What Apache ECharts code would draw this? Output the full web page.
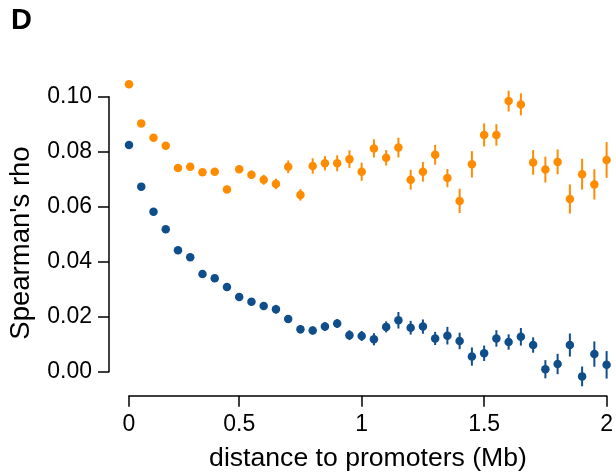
<!DOCTYPE html>
<html>
<head>
<meta charset="utf-8">
<script src="https://cdn.jsdelivr.net/npm/echarts@6/dist/echarts.min.js"></script>
<style>
html,body{margin:0;padding:0;background:#fff;}
#chart{width:616px;height:475px;}
</style>
</head>
<body>
<div id="chart"></div>
<script>
// bin number along distance axis (50 kb bins)
const binIndex = [1,2,3,4,5,6,7,8,9,10,11,12,13,14,15,16,17,18,19,20,21,22,23,24,25,26,27,28,29,30,31,32,33,34,35,36,37,38,39,40];
const xTickPositions = [1, 10, 20, 30, 40];
const xTickLabels = ['0', '0.5', '1', '1.5', '2'];

// orange series: value and error half-width
const orangeRho = [0.1045,0.0903,0.0851,0.0822,0.0741,0.0745,0.0725,0.0727,0.0663,0.0736,
                   0.0716,0.0698,0.0683,0.0745,0.0643,0.0748,0.0758,0.0758,0.0773,0.0727,
                   0.0812,0.0778,0.0815,0.0698,0.0727,0.0789,0.0704,0.0621,0.0754,0.0861,
                   0.0861,0.0984,0.0972,0.0761,0.0735,0.0763,0.0628,0.0718,0.0681,0.0770];
const orangeErr = [0.0006,0.0008,0.0009,0.0010,0.0010,0.0011,0.0012,0.0012,0.0013,0.0013,
                   0.0015,0.0018,0.0019,0.0023,0.0021,0.0028,0.0026,0.0029,0.0032,0.0033,
                   0.0033,0.0028,0.0036,0.0036,0.0036,0.0036,0.0033,0.0044,0.0048,0.0042,
                   0.0039,0.0038,0.0040,0.0045,0.0047,0.0045,0.0053,0.0056,0.0055,0.0065];

// blue series: value and error half-width
const blueRho = [0.0824,0.0673,0.0582,0.0518,0.0442,0.0416,0.0355,0.0340,0.0308,0.0272,
                 0.0254,0.0239,0.0227,0.0192,0.0154,0.0150,0.0164,0.0175,0.0133,0.0130,
                 0.0118,0.0163,0.0187,0.0160,0.0164,0.0121,0.0131,0.0112,0.0055,0.0067,
                 0.0121,0.0108,0.0127,0.0097,0.0009,0.0028,0.0097,-0.0017,0.0064,0.0025];
const blueErr = [0.0006,0.0007,0.0008,0.0008,0.0009,0.0009,0.0010,0.0010,0.0011,0.0011,
                 0.0012,0.0012,0.0016,0.0014,0.0015,0.0014,0.0016,0.0016,0.0018,0.0018,
                 0.0022,0.0020,0.0030,0.0025,0.0026,0.0024,0.0032,0.0030,0.0033,0.0028,
                 0.0030,0.0028,0.0032,0.0028,0.0033,0.0037,0.0042,0.0036,0.0046,0.0050];

const ORANGE = '#FF8C00';
const BLUE = '#104E8B';

function errData(vals, errs) {
  return binIndex.map((b, i) => [b, vals[i] - errs[i], vals[i] + errs[i]]);
}
function pointData(vals) {
  return binIndex.map((b, i) => [b, vals[i]]);
}
function errSeries(vals, errs, color) {
  return {
    type: 'custom',
    clip: false,
    data: errData(vals, errs),
    encode: { x: 0, y: [1, 2] },
    renderItem: function (params, api) {
      const x = api.value(0);
      const p1 = api.coord([x, api.value(1)]);
      const p2 = api.coord([x, api.value(2)]);
      return {
        type: 'line',
        shape: { x1: p1[0], y1: p1[1], x2: p2[0], y2: p2[1] },
        style: { stroke: color, lineWidth: 2 }
      };
    },
    z: 2
  };
}
function dotSeries(vals, color) {
  return {
    type: 'scatter',
    clip: false,
    data: pointData(vals),
    symbol: 'circle',
    symbolSize: 8.5,
    itemStyle: { color: color, opacity: 1 },
    z: 3
  };
}

const chart = echarts.init(document.getElementById('chart'), null, { renderer: 'canvas' });
const FONT = 'Liberation Sans, Arial, sans-serif';
chart.setOption({
  animation: false,
  backgroundColor: '#ffffff',
  grid: { left: 129, right: 7, top: 96.7, bottom: 103.3, containLabel: false },
  xAxis: {
    type: 'value',
    min: 1,
    max: 40,
    offset: 24,
    splitLine: { show: false },
    axisLine: { show: true, onZero: false, lineStyle: { color: '#000', width: 1.5 } },
    axisTick: { show: true, length: 11, customValues: xTickPositions, lineStyle: { color: '#000', width: 1.5 } },
    axisLabel: {
      customValues: xTickPositions,
      margin: 17,
      color: '#000',
      fontSize: 23,
      fontFamily: FONT,
      formatter: function (v) { const k = xTickPositions.indexOf(v); return k >= 0 ? xTickLabels[k] : ''; }
    }
  },
  yAxis: {
    type: 'value',
    min: 0,
    max: 0.1,
    interval: 0.02,
    offset: 20,
    splitLine: { show: false },
    axisLine: { show: true, onZero: false, lineStyle: { color: '#000', width: 1.5 } },
    axisTick: { show: true, length: 11, lineStyle: { color: '#000', width: 1.5 } },
    axisLabel: {
      margin: 17,
      color: '#000',
      fontSize: 23,
      fontFamily: FONT,
      formatter: function (v) { return v.toFixed(2); }
    }
  },
  graphic: [
    { type: 'text', left: 11, top: 6, style: { text: 'D', fontSize: 29, fontWeight: 'bold', fontFamily: FONT, fill: '#000' } },
    { type: 'text', x: 368, y: 459, style: { text: 'distance to promoters (Mb)', fontSize: 26.6, fontFamily: FONT, fill: '#000', align: 'center', verticalAlign: 'middle' } },
    { type: 'text', x: 21, y: 243, rotation: Math.PI / 2, style: { text: "Spearman's rho", fontSize: 27.5, fontFamily: FONT, fill: '#000', align: 'center', verticalAlign: 'middle' } }
  ],
  series: [
    errSeries(blueRho, blueErr, BLUE),
    errSeries(orangeRho, orangeErr, ORANGE),
    dotSeries(blueRho, BLUE),
    dotSeries(orangeRho, ORANGE)
  ]
});
</script>
</body>
</html>
